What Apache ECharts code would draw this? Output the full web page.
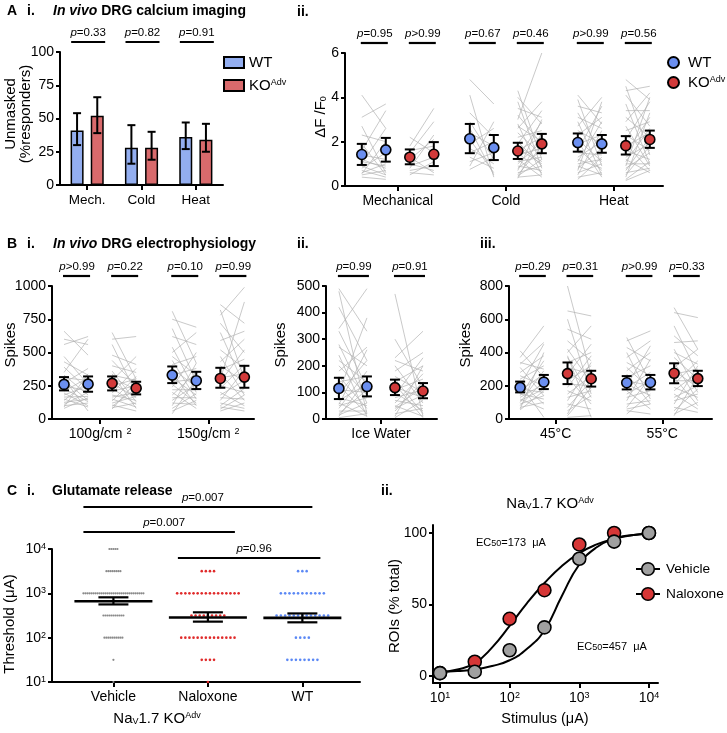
<!DOCTYPE html>
<html>
<head>
<meta charset="utf-8">
<script src="https://cdn.jsdelivr.net/npm/echarts@6.0.0/dist/echarts.min.js"></script>
<style>
html,body{margin:0;padding:0;background:#fff;}
#chart{width:727px;height:733px;}
</style>
</head>
<body>
<div id="chart"></div>
<script>
// ================= DATA =================
// A i : % responders (bars, mean with CI)
const aiCategories = ['Mech.', 'Cold', 'Heat'];
const aiWT = [41, 28, 36];
const aiWTLow = [30, 16, 27];
const aiWTHigh = [54, 45, 47];
const aiKO = [52, 28, 34];
const aiKOLow = [39, 19, 25];
const aiKOHigh = [66, 40, 46];
const aiP = ['=0.33', '=0.82', '=0.91'];

// A ii : dF/F0 paired (each pair = before/after of one group)
const aiiCategories = ['Mechanical', 'Cold', 'Heat'];
const aiiGroups = ['WT', 'KO', 'WT', 'KO', 'WT', 'KO'];
const aiiMean = [1.42, 1.63, 1.30, 1.43, 2.13, 1.73, 1.58, 1.90, 1.96, 1.90, 1.82, 2.10];
const aiiLow  = [0.95, 1.10, 0.98, 0.90, 1.48, 1.17, 1.22, 1.48, 1.55, 1.50, 1.42, 1.72];
const aiiHigh = [1.90, 2.17, 1.65, 1.98, 2.80, 2.30, 1.95, 2.35, 2.37, 2.30, 2.25, 2.50];
const aiiP = ['=0.95', '>0.99', '=0.67', '=0.46', '>0.99', '=0.56'];
const aiiPairs = [
  [[4.1,2.6],[3.1,3.7],[2.7,0.6],[2.3,2.0],[1.9,0.5],[1.6,3.4],[1.4,1.2],[1.2,0.8],[1.0,2.6],[0.9,0.5],[0.8,1.5],[0.7,0.4],[0.6,1.0],[0.5,0.7],[0.4,0.3],[1.1,0.9],[0.55,2.0]],
  [[2.2,1.5],[1.8,3.5],[1.5,2.9],[1.3,0.6],[1.2,2.1],[1.0,0.7],[0.9,1.3],[0.8,2.3],[0.7,0.9],[0.6,0.5],[0.5,1.1],[1.6,1.8]],
  [[4.8,3.7],[4.1,0.4],[3.3,2.2],[2.9,1.2],[2.4,1.8],[2.1,0.6],[1.9,2.6],[1.7,1.0],[1.5,2.0],[1.3,0.8],[1.1,1.5],[0.9,2.9],[0.75,1.3],[2.6,0.5]],
  [[4.3,1.2],[4.0,2.8],[3.8,0.8],[3.5,3.1],[3.2,1.9],[3.0,6.0],[2.8,0.5],[2.6,3.8],[2.4,1.4],[2.2,2.5],[2.0,0.9],[1.9,3.4],[1.8,1.1],[1.6,2.2],[1.5,0.6],[1.4,1.7],[1.3,2.9],[1.2,0.4],[1.1,1.3],[1.0,2.0],[0.9,0.7],[0.8,1.6],[0.7,3.0],[0.6,0.9],[0.5,1.8],[0.4,0.5],[0.35,2.4],[1.7,1.0],[2.7,2.0],[0.45,1.2]],
  [[4.1,2.8],[3.9,0.9],[3.6,3.3],[3.3,1.5],[3.1,2.6],[2.9,0.5],[2.7,4.0],[2.5,1.9],[2.3,3.1],[2.1,1.1],[1.9,2.3],[1.7,0.7],[1.6,3.6],[1.5,1.4],[1.3,2.0],[1.2,0.8],[1.1,2.9],[1.0,1.2],[0.9,0.5],[0.8,1.7],[0.7,3.8],[0.6,1.0],[0.5,2.5],[0.4,0.6],[0.3,1.3],[2.0,0.4]],
  [[4.8,3.9],[4.5,1.4],[4.3,4.5],[4.1,2.7],[3.7,1.0],[3.4,3.4],[3.1,2.2],[2.9,4.2],[2.7,0.9],[2.5,2.9],[2.3,1.6],[2.1,3.8],[1.9,0.7],[1.8,2.4],[1.6,1.2],[1.5,3.1],[1.3,1.9],[1.2,0.6],[1.1,2.6],[1.0,1.0],[0.9,4.0],[0.8,1.5],[0.7,2.2],[0.6,0.8],[0.5,1.8],[0.4,3.3],[0.3,1.1],[0.25,0.7]]
];

// B i : spikes, mechanical
const biCategories = ['100g/cm {sup|2}', '150g/cm {sup|2}'];
const biGroups = ['WT', 'KO', 'WT', 'KO'];
const biMean = [260, 262, 268, 232, 330, 288, 305, 315];
const biLow  = [215, 205, 215, 185, 270, 225, 235, 235];
const biHigh = [315, 320, 320, 280, 395, 355, 385, 400];
const biP = ['>0.99', '=0.22', '=0.10', '=0.99'];
const biPairs = [
  [[660,480],[600,560],[560,620],[470,260],[430,330],[390,220],[350,600],[330,180],[310,290],[290,140],[270,380],[250,210],[230,130],[210,310],[195,100],[180,250],[165,170],[150,90],[140,280],[125,150],[110,200],[100,120],[90,340],[80,160],[300,60]],
  [[650,300],[600,620],[560,190],[480,410],[440,250],[400,350],[360,130],[330,290],[310,220],[290,470],[270,160],[250,300],[230,110],[210,250],[195,380],[180,140],[165,200],[150,90],[135,320],[120,170],[105,60],[95,230],[85,120],[75,280],[340,80]],
  [[810,420],[750,690],[680,280],[620,560],[540,200],[500,650],[470,330],[440,150],[410,470],[380,240],[350,100],[330,380],[310,180],[280,300],[260,120],[240,500],[220,220],[200,80],[180,350],[160,160],[140,260],[120,110],[100,420],[80,190],[60,140],[40,300]],
  [[860,720],[820,300],[780,990],[720,500],[650,250],[590,660],[520,380],[470,180],[430,600],[400,280],[370,450],[340,140],[310,340],[280,520],[250,200],[230,410],[200,100],[180,290],[160,150],[140,370],[120,80],[100,230],[90,60],[75,180],[60,120],[300,880]]
];

// B ii : spikes, ice water
const biiCategories = ['Ice Water'];
const biiGroups = ['WT', 'KO'];
const biiMean = [115, 122, 118, 105];
const biiLow  = [75, 85, 90, 78];
const biiHigh = [155, 160, 148, 135];
const biiP = ['=0.99', '=0.91'];
const biiPairs = [
  [[490,330],[480,20],[420,220],[340,490],[330,120],[280,60],[270,200],[240,10],[220,140],[200,90],[180,270],[160,40],[140,160],[125,20],[110,100],[95,220],[80,50],[70,130],[60,10],[50,80],[40,180],[30,30],[20,110],[15,60],[10,150],[5,20],[100,380],[55,260]],
  [[470,10],[300,120],[230,330],[220,180],[200,60],[180,250],[160,100],[150,20],[140,200],[120,80],[110,150],[100,30],[90,230],[80,110],[70,50],[60,170],[50,10],[40,90],[30,140],[20,40],[10,200],[5,70],[130,5],[45,120]]
];

// B iii : spikes, heat
const biiiCategories = ['45°C', '55°C'];
const biiiGroups = ['WT', 'KO', 'WT', 'KO'];
const biiiMean = [190, 222, 273, 242, 218, 220, 275, 243];
const biiiLow  = [160, 180, 210, 195, 178, 178, 215, 198];
const biiiHigh = [225, 265, 340, 290, 258, 265, 335, 290];
const biiiP = ['=0.29', '=0.31', '>0.99', '=0.33'];
const biiiPairs = [
  [[410,250],[370,560],[330,460],[310,140],[280,380],[260,200],[240,320],[220,90],[200,450],[180,160],[170,270],[150,120],[140,350],[130,210],[120,60],[110,180],[100,290],[90,140],[80,230],[70,100],[60,400],[55,170],[210,10],[340,300]],
  [[800,260],[650,620],[600,150],[540,480],[470,350],[420,220],[400,560],[370,130],[340,400],[310,270],[290,180],[270,450],[250,90],[230,320],[210,200],[190,380],[170,110],[150,260],[130,170],[110,340],[90,60],[70,230],[50,140],[30,300],[10,20],[20,190],[380,10]],
  [[490,220],[470,530],[430,350],[400,120],[370,470],[340,260],[310,180],[290,400],[270,90],[250,320],[230,200],[210,140],[190,280],[170,60],[150,230],[130,170],[110,360],[90,110],[70,250],[50,30],[30,150],[60,90],[200,440]],
  [[670,420],[640,610],[560,270],[500,380],[460,470],[420,160],[400,330],[370,240],[340,110],[310,420],[290,190],[270,300],[250,80],[230,230],[210,350],[190,130],[170,280],[150,60],[130,200],[110,150],[90,320],[70,40],[50,180],[30,100],[20,260]]
];

// C i : glutamate release threshold (uA), counts of ROIs at each stimulus level
const ciGroups = ['Vehicle', 'Naloxone', 'WT'];
const ciLevels = [10, 31.6, 100, 316, 1000, 3162, 10000];
const ciVehicleCounts  = [1, 1, 10, 11, 31, 8, 5];
const ciNaloxoneCounts = [1, 4, 14, 9, 16, 4, 0];
const ciWTCounts       = [0, 8, 4, 13, 11, 3, 0];
const ciMean = [661, 285, 280];
const ciLow  = [562, 230, 222];
const ciHigh = [813, 373, 352];
const ciP = ['=0.007', '=0.007', '=0.96'];

// C ii : % ROIs vs stimulus
const ciiStimulus = [10, 31.6, 100, 316, 1000, 3162, 10000];
const ciiVehicle  = [2, 3, 18, 34, 82, 94, 100];
const ciiNaloxone = [2, 10, 40, 60, 92, 100, 100];
const ciiFitLogX = [1, 1.25, 1.5, 1.75, 2, 2.25, 2.5, 2.75, 3, 3.25, 3.5, 3.75, 4];
const ciiVehicleFit  = [3, 3.5, 4.5, 7, 11, 19, 32, 56, 78, 90, 96, 98.5, 99.5];
const ciiNaloxoneFit = [2.5, 4.5, 9, 20, 35, 51, 65, 77, 86, 92, 96, 98.5, 99.5];
const ciiXTicks = [1, 2, 3, 4];
const ciiYTicks = [0, 50, 100];

// ================= STYLE / LAYOUT =================
const F = '"Liberation Sans", Arial, Helvetica, sans-serif';
const COL = {
  blue: '#6b8ff0', red: '#d23a3a', barBlue: '#93aef0', barRed: '#d96a6c',
  pair: '#b2b2b2', dotGray: '#8a8a8a', dotRed: '#e02a2a', dotBlue: '#5b88f5',
  ptGray: '#a0a0a0', ptRed: '#d63636'
};
function richSet(fs) {
  fs = fs || 14;
  return {
    sup: {fontSize: 9, fontFamily: F, color: '#000', fill: '#000', verticalAlign: 'top', lineHeight: 8},
    sub: {fontSize: 9, fontFamily: F, color: '#000', fill: '#000', verticalAlign: 'bottom', lineHeight: 3},
    i: {fontSize: fs, fontStyle: 'italic', fontFamily: F, color: '#000', fill: '#000'},
    b: {fontSize: fs, fontWeight: 'bold', fontFamily: F, color: '#000', fill: '#000'},
    bi: {fontSize: fs, fontWeight: 'bold', fontStyle: 'italic', fontFamily: F, color: '#000', fill: '#000'}
  };
}
function merge(a, b) {
  for (const k in b) {
    if (b[k] && typeof b[k] === 'object' && !Array.isArray(b[k]) && a[k] && typeof a[k] === 'object') merge(a[k], b[k]);
    else a[k] = b[k];
  }
  return a;
}
function axis(gi, o) {
  return merge({
    gridIndex: gi, type: 'value',
    axisLine: {show: true, onZero: false, lineStyle: {color: '#000', width: 2}},
    axisTick: {show: true, inside: false, length: 5, lineStyle: {color: '#000', width: 2}},
    axisLabel: {show: true, color: '#000', fontSize: 14, fontFamily: F, margin: 8, rich: richSet()},
    splitLine: {show: false},
    minorTick: {show: false}
  }, o);
}
function yAxis(gi, o) {
  return axis(gi, merge({axisTick: {length: 4}, axisLabel: {margin: 6, formatter: v => String(v)}}, o));
}
function pairPositions(nPairs) {
  const pos = [];
  for (let k = 0; k < nPairs; k++) {
    const base = Math.floor(k / 2) * 4.5 + (k % 2) * 2;
    pos.push(base, base + 1);
  }
  return pos;
}
function groupCenters(pos) {
  const c = [];
  for (let g = 0; g < pos.length / 4; g++) c.push((pos[4 * g] + pos[4 * g + 3]) / 2);
  return c;
}
function catLabelAxis(gi, min, max, centers, labels, extra) {
  return axis(gi, merge({
    min, max,
    axisTick: {customValues: centers},
    axisLabel: {customValues: centers, margin: 8, formatter: v => {
      let best = 0;
      centers.forEach((c, i) => { if (Math.abs(c - v) < Math.abs(centers[best] - v)) best = i; });
      return labels[best];
    }}
  }, extra || {}));
}

const grids = [
  {left: 60,  top: 52,  width: 163, height: 133},
  {left: 345, top: 53,  width: 318, height: 133},
  {left: 52,  top: 286, width: 202, height: 133},
  {left: 326, top: 286, width: 111, height: 133},
  {left: 509, top: 286, width: 203, height: 133},
  {left: 52,  top: 549, width: 308, height: 133},
  {left: 433, top: 525, width: 225, height: 158}
].map(g => Object.assign({containLabel: false, outerBoundsMode: 'none'}, g));

const aiiPos = pairPositions(aiiPairs.length);
const biPos = pairPositions(biPairs.length);
const biiPos = pairPositions(biiPairs.length);
const biiiPos = pairPositions(biiiPairs.length);

const xAxes = [
  axis(0, {type: 'category', data: aiCategories, axisTick: {alignWithLabel: true}, axisLabel: {fontSize: 13.5, margin: 8}}),
  catLabelAxis(1, -0.7, 12.55, groupCenters(aiiPos), aiiCategories),
  catLabelAxis(2, -0.5, 7.9, groupCenters(biPos), biCategories),
  catLabelAxis(3, -0.46, 3.5, [1.5], biiCategories),
  catLabelAxis(4, -0.47, 8.1, groupCenters(biiiPos), biiiCategories),
  catLabelAxis(5, -0.65, 2.61, [0, 1, 2], ciGroups),
  axis(6, {min: 0.9, max: 4.13, axisTick: {customValues: ciiXTicks},
    axisLabel: {customValues: ciiXTicks, formatter: v => '10{sup|' + Math.round(v) + '}'}})
];
const yAxes = [
  yAxis(0, {min: 0, max: 100, interval: 25}),
  yAxis(1, {min: 0, max: 6, interval: 2}),
  yAxis(2, {min: 0, max: 1000, interval: 250}),
  yAxis(3, {min: 0, max: 500, interval: 100}),
  yAxis(4, {min: 0, max: 800, interval: 200}),
  yAxis(5, {type: 'log', logBase: 10, min: 10, max: 10000,
    axisLabel: {formatter: v => '10{sup|' + Math.round(Math.log10(v)) + '}'}}),
  yAxis(6, {min: -4.9, max: 105.6, axisTick: {customValues: ciiYTicks}, axisLabel: {customValues: ciiYTicks}})
];

// ================= SERIES =================
const series = [];
function errBars(gi, data, offsetPx, capHalf, z) {
  return {
    type: 'custom', xAxisIndex: gi, yAxisIndex: gi, silent: true, z: z || 4, data,
    renderItem: (params, api) => {
      const x = api.value(0);
      const pl = api.coord([x, api.value(1)]);
      const ph = api.coord([x, api.value(2)]);
      const px = pl[0] + offsetPx;
      const st = {stroke: '#000', lineWidth: 2};
      return {type: 'group', children: [
        {type: 'line', shape: {x1: px, y1: pl[1], x2: px, y2: ph[1]}, style: st},
        {type: 'line', shape: {x1: px - capHalf, y1: pl[1], x2: px + capHalf, y2: pl[1]}, style: st},
        {type: 'line', shape: {x1: px - capHalf, y1: ph[1], x2: px + capHalf, y2: ph[1]}, style: st}
      ]};
    }
  };
}
// A i bars
series.push({type: 'bar', name: 'aiWT', xAxisIndex: 0, yAxisIndex: 0, data: aiWT, barWidth: 13, barGap: '55%',
  itemStyle: {color: COL.barBlue, borderColor: '#000', borderWidth: 1.5}, z: 2});
series.push({type: 'bar', name: 'aiKO', xAxisIndex: 0, yAxisIndex: 0, data: aiKO, barWidth: 13, barGap: '55%',
  itemStyle: {color: COL.barRed, borderColor: '#000', borderWidth: 1.5}, z: 2});
series.push(errBars(0, aiWT.map((m, i) => [i, aiWTLow[i], aiWTHigh[i]]), -10.1, 4));
series.push(errBars(0, aiKO.map((m, i) => [i, aiKOLow[i], aiKOHigh[i]]), 10.1, 4));

function dotPanel(gi, pairs, groups, mean, low, high, pos, prefix) {
  const lineData = [];
  pairs.forEach((arr, k) => arr.forEach(ab => lineData.push([pos[2 * k], ab[0], pos[2 * k + 1], ab[1]])));
  series.push({
    type: 'custom', xAxisIndex: gi, yAxisIndex: gi, silent: true, z: 1, data: lineData,
    renderItem: (params, api) => {
      const p0 = api.coord([api.value(0), api.value(1)]);
      const p1 = api.coord([api.value(2), api.value(3)]);
      return {type: 'line', shape: {x1: p0[0], y1: p0[1], x2: p1[0], y2: p1[1]}, style: {stroke: COL.pair, lineWidth: 0.7}};
    }
  });
  series.push(errBars(gi, mean.map((m, j) => [pos[j], low[j], high[j]]), 0, 5, 3));
  ['WT', 'KO'].forEach(g => {
    const d = [];
    mean.forEach((m, j) => { if (groups[Math.floor(j / 2)] === g) d.push([pos[j], m]); });
    series.push({type: 'scatter', name: prefix + g, xAxisIndex: gi, yAxisIndex: gi, data: d, symbol: 'circle', symbolSize: 10,
      z: 5, silent: true, itemStyle: {color: g === 'WT' ? COL.blue : COL.red, borderColor: '#000', borderWidth: 1.6, opacity: 1}});
  });
}
dotPanel(1, aiiPairs, aiiGroups, aiiMean, aiiLow, aiiHigh, aiiPos, 'aii');
dotPanel(2, biPairs, biGroups, biMean, biLow, biHigh, biPos, 'bi');
dotPanel(3, biiPairs, biiGroups, biiMean, biiLow, biiHigh, biiPos, 'bii');
dotPanel(4, biiiPairs, biiiGroups, biiiMean, biiiLow, biiiHigh, biiiPos, 'biii');

// C i dot strips (spread horizontally, centred on the group)
const ciUnitPerPx = (2.61 + 0.65) / 308;
[[ciVehicleCounts, COL.dotGray, 2.0, 2.2], [ciNaloxoneCounts, COL.dotRed, 4.1, 2.6], [ciWTCounts, COL.dotBlue, 4.3, 2.6]].forEach((cfg, g) => {
  const [counts, color, spacingPx, size] = cfg;
  const d = [];
  counts.forEach((n, li) => {
    for (let k = 0; k < n; k++) d.push([g + (k - (n - 1) / 2) * spacingPx * ciUnitPerPx, ciLevels[li]]);
  });
  series.push({type: 'scatter', xAxisIndex: 5, yAxisIndex: 5, data: d, symbol: 'circle', symbolSize: size,
    silent: true, z: 3, itemStyle: {color, opacity: 1}});
});
series.push({
  type: 'custom', xAxisIndex: 5, yAxisIndex: 5, silent: true, z: 6,
  data: ciMean.map((m, g) => [g, m, ciLow[g], ciHigh[g]]),
  renderItem: (params, api) => {
    const x = api.value(0);
    const pm = api.coord([x, api.value(1)]);
    const pl = api.coord([x, api.value(2)]);
    const ph = api.coord([x, api.value(3)]);
    const st = {stroke: '#000', lineWidth: 2.2};
    return {type: 'group', children: [
      {type: 'line', shape: {x1: pm[0] - 39, y1: pm[1], x2: pm[0] + 39, y2: pm[1]}, style: {stroke: '#000', lineWidth: 2.6}},
      {type: 'line', shape: {x1: pm[0], y1: pl[1], x2: pm[0], y2: ph[1]}, style: st},
      {type: 'line', shape: {x1: pm[0] - 15, y1: pl[1], x2: pm[0] + 15, y2: pl[1]}, style: st},
      {type: 'line', shape: {x1: pm[0] - 15, y1: ph[1], x2: pm[0] + 15, y2: ph[1]}, style: st}
    ]};
  }
});

// C ii
series.push({type: 'line', name: 'naloxoneFit', xAxisIndex: 6, yAxisIndex: 6, smooth: true, symbol: 'none', silent: true, z: 2,
  lineStyle: {color: '#000', width: 2}, data: ciiFitLogX.map((x, i) => [x, ciiNaloxoneFit[i]])});
series.push({type: 'line', name: 'vehicleFit', xAxisIndex: 6, yAxisIndex: 6, smooth: true, symbol: 'none', silent: true, z: 2,
  lineStyle: {color: '#000', width: 2}, data: ciiFitLogX.map((x, i) => [x, ciiVehicleFit[i]])});
series.push({type: 'scatter', name: 'Naloxone', xAxisIndex: 6, yAxisIndex: 6, symbol: 'circle', symbolSize: 13, silent: true, z: 4,
  itemStyle: {color: COL.ptRed, borderColor: '#000', borderWidth: 1.6, opacity: 1},
  data: ciiStimulus.map((s, i) => [Math.log10(s), ciiNaloxone[i]])});
series.push({type: 'scatter', name: 'Vehicle', xAxisIndex: 6, yAxisIndex: 6, symbol: 'circle', symbolSize: 13, silent: true, z: 5,
  itemStyle: {color: COL.ptGray, borderColor: '#000', borderWidth: 1.6, opacity: 1},
  data: ciiStimulus.map((s, i) => [Math.log10(s), ciiVehicle[i]])});

const legendText = {color: '#000', fontSize: 15, fontFamily: F, rich: richSet(15)};
const option = {
  animation: false,
  backgroundColor: '#fff',
  textStyle: {fontFamily: F},
  grid: grids,
  xAxis: xAxes,
  yAxis: yAxes,
  legend: [
    {data: ['aiWT', 'aiKO'], orient: 'vertical', left: 223, top: 55, itemWidth: 20, itemHeight: 11, itemGap: 8, padding: 0,
      icon: 'rect', selectedMode: false, textStyle: legendText,
      formatter: n => n === 'aiWT' ? 'WT' : 'KO{sup|Adv}'},
    {data: ['aiiWT', 'aiiKO'], orient: 'vertical', left: 667, top: 55, itemWidth: 11, itemHeight: 11, itemGap: 5, padding: 0,
      icon: 'circle', selectedMode: false, textStyle: merge({padding: [0, 0, 0, 4]}, legendText),
      formatter: n => n === 'aiiWT' ? 'WT' : 'KO{sup|Adv}'}
  ],
  series
};

const chart = echarts.init(document.getElementById('chart'), null, {width: 727, height: 733, renderer: 'canvas'});
chart.setOption(option);

// ================= ANNOTATIONS (text, p-value bars) =================
const G = [];
function P(gi, x, y) { return chart.convertToPixel({gridIndex: gi}, [x, y]); }
function text(x, y, t, st, el) {
  const fs = (st && st.fontSize) || 14;
  G.push(merge({type: 'text', x, y, silent: true, z: 100,
    style: merge({text: t, fontFamily: F, fontSize: 14, fill: '#000', align: 'left', verticalAlign: 'top', rich: richSet(fs)}, st || {})}, el || {}));
}
function hline(x1, x2, y, w) {
  G.push({type: 'line', silent: true, z: 100, shape: {x1, y1: y, x2, y2: y}, style: {stroke: '#000', lineWidth: w || 2.2}});
}
function pText(cx, yb, p) {
  text(cx, yb, '{i|p}' + p, {fontSize: 11.5, align: 'center', verticalAlign: 'bottom'});
}
// panel headings
const H = {fontSize: 14, fontWeight: 'bold'};
text(7, 4, 'A', H); text(27, 4, 'i.', H); text(53, 4, '{bi|In vivo} DRG calcium imaging', H);
text(297, 5, 'ii.', H);
text(7, 237, 'B', H); text(27, 237, 'i.', H); text(53, 237, '{bi|In vivo} DRG electrophysiology', H);
text(297, 237, 'ii.', H);
text(480, 237, 'iii.', H);
text(7, 484, 'C', H); text(27, 484, 'i.', H); text(52, 484, 'Glutamate release', H);
text(381, 484, 'ii.', H);

// A i p-values
aiP.forEach((p, i) => {
  const c = P(0, i, 100);
  hline(c[0] - 16, c[0] + 18, c[1] - 10);
  pText(c[0] + 1, c[1] - 13, p);
});
function pairP(gi, pos, ymax, ps) {
  ps.forEach((p, k) => {
    const a = P(gi, pos[2 * k], ymax), b = P(gi, pos[2 * k + 1], ymax);
    hline(a[0] - 1, b[0] + 2, a[1] - 10);
    pText((a[0] + b[0]) / 2 + 1, a[1] - 13, p);
  });
}
pairP(1, aiiPos, 6, aiiP);
pairP(2, biPos, 1000, biP);
pairP(3, biiPos, 500, biiP);
pairP(4, biiiPos, 800, biiiP);

// C i significance lines
const ciTop = P(5, 0, 10000)[1];
[[0, -30, 2, 10, -42, 0], [0, -30, 1, 27, -17, 1], [1, -30, 2, 18, 9, 2]].forEach(s => {
  const x1 = P(5, s[0], 1000)[0] + s[1], x2 = P(5, s[2], 1000)[0] + s[3];
  const y = ciTop + s[4];
  hline(x1, x2, y, 2);
  pText((x1 + x2) / 2 + 5, y - 3, ciP[s[5]]);
});

// axis titles
const rot = {rotation: Math.PI / 2};
text(18, 114, 'Unmasked\n(%responders)', {fontSize: 15, lineHeight: 15, align: 'center', verticalAlign: 'middle'}, rot);
text(321, 117, 'ΔF /F{sub|0}', {fontSize: 15, align: 'center', verticalAlign: 'middle'}, rot);
text(11, 345, 'Spikes', {fontSize: 15, align: 'center', verticalAlign: 'middle'}, rot);
text(281, 345, 'Spikes', {fontSize: 15, align: 'center', verticalAlign: 'middle'}, rot);
text(466, 345, 'Spikes', {fontSize: 15, align: 'center', verticalAlign: 'middle'}, rot);
text(10, 624, 'Threshold (μA)', {fontSize: 15, align: 'center', verticalAlign: 'middle'}, rot);
text(395, 606, 'ROIs (% total)', {fontSize: 15, align: 'center', verticalAlign: 'middle'}, rot);
text(157, 719, 'Na{sub|V}1.7 KO{sup|Adv}', {fontSize: 15, align: 'center', verticalAlign: 'middle'});
text(545, 719, 'Stimulus (μA)', {fontSize: 14.5, align: 'center', verticalAlign: 'middle'});
text(550, 504, 'Na{sub|V}1.7 KO{sup|Adv}', {fontSize: 15, align: 'center', verticalAlign: 'middle'});
text(476, 543, 'EC{sub|50}=173  μA', {fontSize: 11, align: 'left', verticalAlign: 'middle'});
text(577, 647, 'EC{sub|50}=457  μA', {fontSize: 11, align: 'left', verticalAlign: 'middle'});

// C ii legend (line + marker)
[['Vehicle', COL.ptGray, 569], ['Naloxone', COL.ptRed, 594]].forEach(l => {
  G.push({type: 'line', silent: true, z: 100, shape: {x1: 636, y1: l[2], x2: 660, y2: l[2]}, style: {stroke: '#000', lineWidth: 2}});
  G.push({type: 'circle', silent: true, z: 101, shape: {cx: 648, cy: l[2], r: 6.3}, style: {fill: l[1], stroke: '#000', lineWidth: 1.6}});
  text(666, l[2], l[0], {fontSize: 13.7, verticalAlign: 'middle'});
});

chart.setOption({graphic: {elements: G}});
</script>
</body>
</html>
